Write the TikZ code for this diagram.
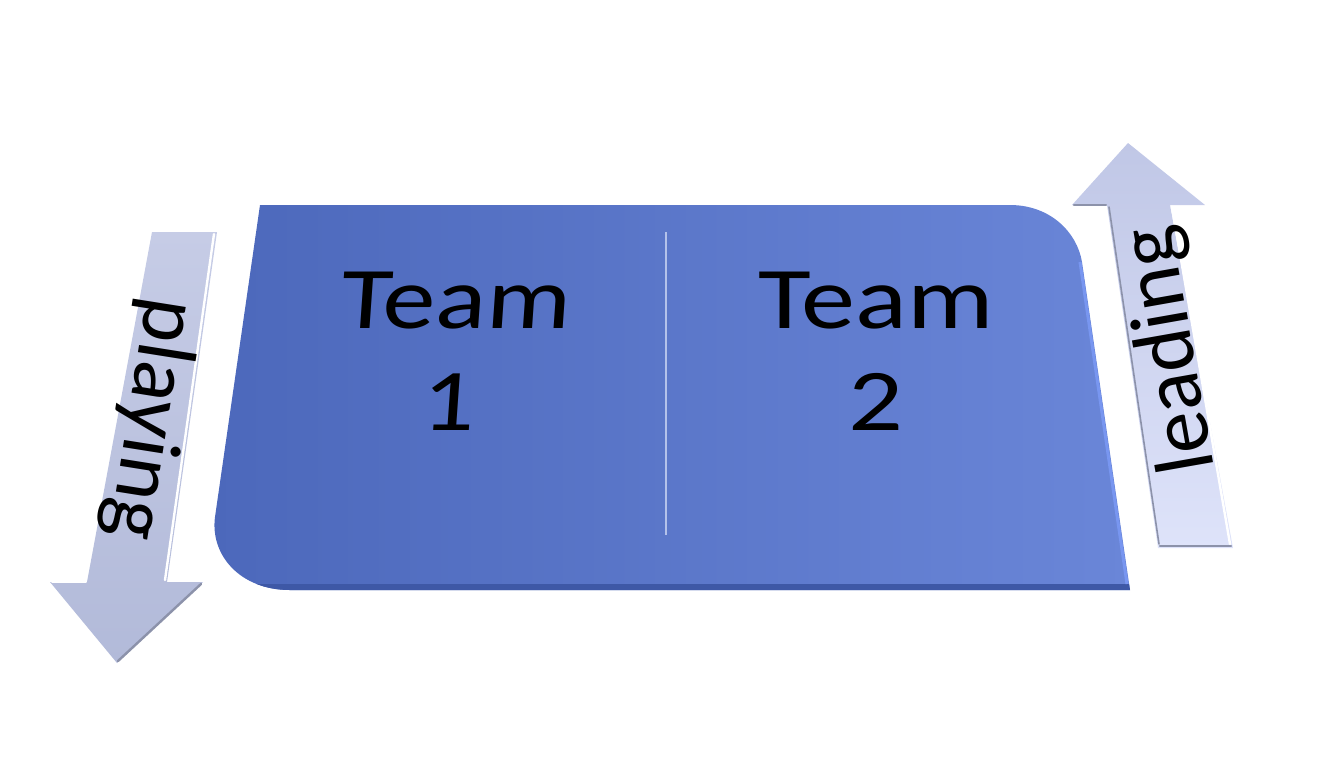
\documentclass[tikz,border=0pt]{standalone}
\usepackage{fontspec}
\setmainfont{Carlito}
\definecolor{shapeL}{RGB}{76,104,187}
\definecolor{shapeR}{RGB}{106,134,216}
\definecolor{bevelD}{RGB}{62,88,166}
\definecolor{bevelL}{RGB}{120,150,240}
\definecolor{divline}{RGB}{180,194,234}
\definecolor{arrLtop}{RGB}{198,204,230}
\definecolor{arrLbot}{RGB}{178,186,217}
\definecolor{arrRtop}{RGB}{192,199,230}
\definecolor{arrRbot}{RGB}{222,227,250}
\definecolor{arrEdgeD}{RGB}{140,146,170}
\tikzset{
  teamtext/.style={text=black, align=center, inner sep=0pt, font=\fontsize{44}{51}\selectfont},
  arrtext/.style={text=black, inner sep=0pt, font=\fontsize{42}{50}\selectfont},
  hilite/.style={draw=white, line width=1.2pt, line cap=round},
  shadowedge/.style={draw=arrEdgeD, line width=1.2pt, line cap=round}
}
\begin{document}
\begin{tikzpicture}[x=0.5pt,y=-0.5pt]
\useasboundingbox (0,0) rectangle (1334,768);
% main shape
\def\mainpath{(260,205) -- (1010,205) .. controls (1050,205) and (1077,232) .. (1082,262) -- (1130,590) -- (290,590) .. controls (240,590) and (210,555) .. (215,517) -- cycle}
\path[left color=shapeL, right color=shapeR] \mainpath;
\begin{scope}
  \clip \mainpath;
  \fill[bevelD] (200,584) rectangle (1140,595);
  \draw[bevelL, line width=1.5pt] (1080,262) -- (1127,584);
\end{scope}
\draw[divline, line width=0.8pt] (666,232) -- (666,535);
% left arrow
\path[top color=arrLtop, bottom color=arrLbot] (152,232) -- (217,232) -- (167,582) -- (203,582) -- (117,663) -- (50,582) -- (87,582) -- cycle;
\draw[hilite] (214,234) -- (165,580);
\draw[shadowedge] (201,584) -- (118,661);
\draw[hilite, line width=0.8pt] (52,582) -- (86,582);
% right arrow
\path[top color=arrRtop, bottom color=arrRbot] (1128,143) -- (1205,205) -- (1170,205) -- (1233,548) -- (1158,548) -- (1107,205) -- (1072,205) -- cycle;
\draw[shadowedge] (1160,546) -- (1231,546);
\draw[shadowedge] (1074,205) -- (1106,205);
\draw[hilite] (1172,207) -- (1230,544);
\draw[shadowedge, line width=0.8pt] (1109,207) -- (1159,544);
% texts
\node[teamtext, xslant=0.07, xscale=1.2] (t1) at (453,351) {Team\\1};
\node[teamtext, xscale=1.23] (t2) at (876,351) {Team\\2};
\node[arrtext, rotate=-99, anchor=base] (play) at (128,416) {playing};
\node[arrtext, rotate=100, anchor=base] (lead) at (1193,346) {leading};
\end{tikzpicture}
\end{document}
